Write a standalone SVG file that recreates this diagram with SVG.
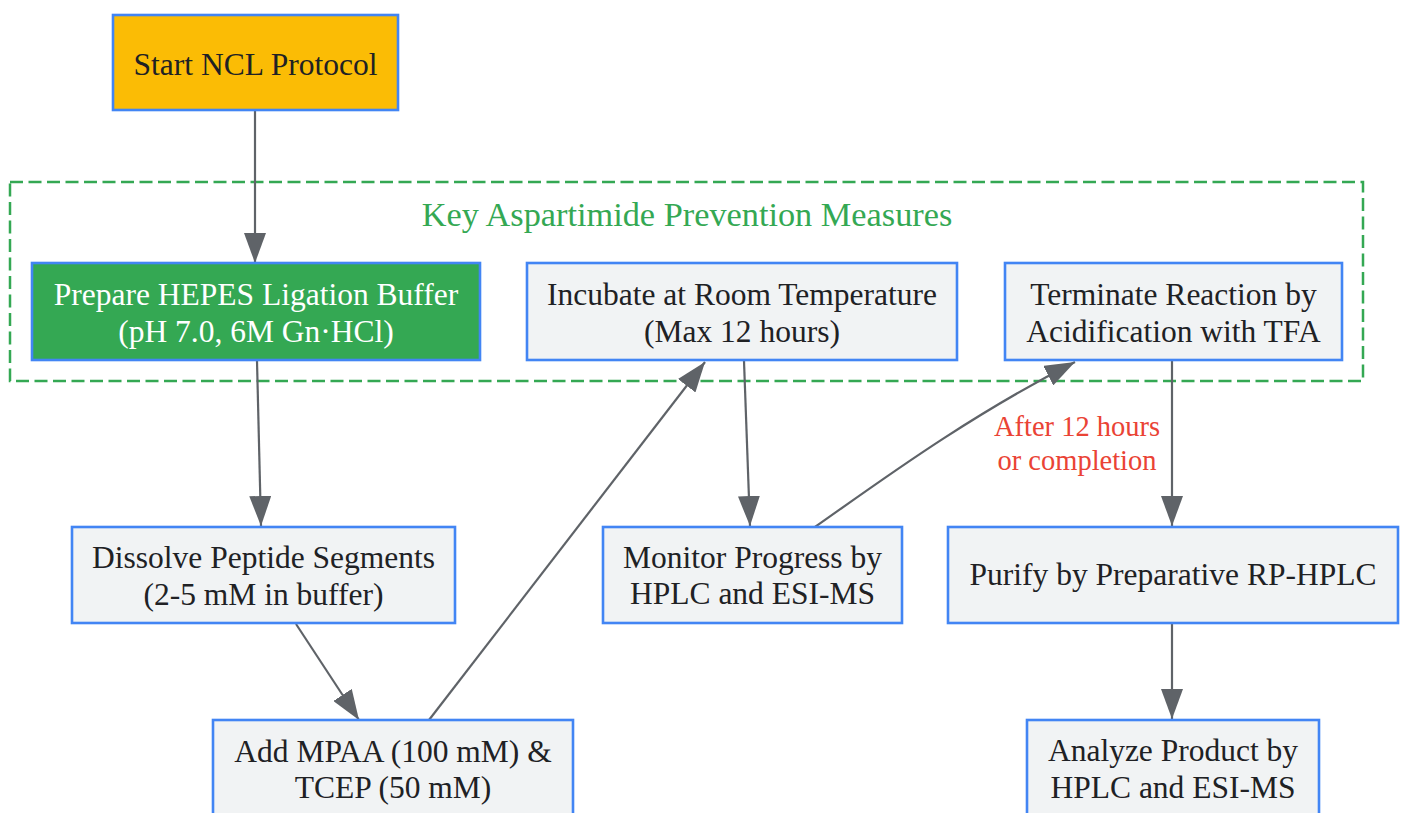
<svg xmlns="http://www.w3.org/2000/svg" width="1402" height="813" viewBox="0 0 1402 813">
<defs>
<style>
.node rect{fill:#F1F3F4;stroke:#4285F4;stroke-width:2.6}
.node text{font-family:"Liberation Serif","Times New Roman",serif;font-size:31.5px;fill:#202124;text-anchor:middle}
.edge{fill:none;stroke:#5F6368;stroke-width:2.2;marker-end:url(#arrow)}
.elabel{font-family:"Liberation Serif","Times New Roman",serif;font-size:28.5px;fill:#EA4335;text-anchor:middle}
.cluster rect{fill:none;stroke:#34A853;stroke-width:2.5;stroke-dasharray:13 5.5}
.cluster text{font-family:"Liberation Serif","Times New Roman",serif;font-size:34.3px;fill:#34A853;text-anchor:middle}
</style>
<marker id="arrow" viewBox="0 0 30 22" refX="30" refY="11" markerWidth="30" markerHeight="22" markerUnits="userSpaceOnUse" orient="auto">
<path d="M0,0 L30,11 L0,22 z" fill="#5F6368"/>
</marker>
</defs>
<rect width="1402" height="813" fill="#FFFFFF"/>
<g id="cluster-prevention" class="cluster">
<rect x="10" y="182" width="1353" height="199"/>
<text x="687" y="226">Key Aspartimide Prevention Measures</text>
</g>
<g id="connectors">
<path class="edge" d="M255,111 L255,263"/>
<path class="edge" d="M257,361 L261,526"/>
<path class="edge" d="M296,624 L359,720"/>
<path class="edge" d="M429,720 L705,362"/>
<path class="edge" d="M744,361 L750,526"/>
<path class="edge" d="M815,527 C875,485 965,418 1075,362"/>
<path class="edge" d="M1172,361 L1172,526"/>
<path class="edge" d="M1172,624 L1172,719"/>
<g id="edge-label">
<text class="elabel" x="1077" y="436">After 12 hours</text>
<text class="elabel" x="1077" y="470">or completion</text>
</g>
</g>
<g id="node-start" class="node">
<rect x="113" y="15" width="285" height="95" style="fill:#FBBC05"/>
<text x="255.5" y="75">Start NCL Protocol</text>
</g>
<g id="node-prepare" class="node">
<rect x="32" y="263" width="448" height="97" style="fill:#34A853"/>
<text x="256" y="305" style="fill:#FFFFFF">Prepare HEPES Ligation Buffer</text>
<text x="256" y="342" style="fill:#FFFFFF">(pH 7.0, 6M Gn·HCl)</text>
</g>
<g id="node-incubate" class="node">
<rect x="527" y="263" width="430" height="97"/>
<text x="742" y="305">Incubate at Room Temperature</text>
<text x="742" y="342">(Max 12 hours)</text>
</g>
<g id="node-terminate" class="node">
<rect x="1005" y="263" width="337" height="97"/>
<text x="1173.5" y="305">Terminate Reaction by</text>
<text x="1173.5" y="342">Acidification with TFA</text>
</g>
<g id="node-dissolve" class="node">
<rect x="72" y="527" width="383" height="96"/>
<text x="263.5" y="568">Dissolve Peptide Segments</text>
<text x="263.5" y="605">(2-5 mM in buffer)</text>
</g>
<g id="node-monitor" class="node">
<rect x="603" y="527" width="299" height="96"/>
<text x="752.5" y="568">Monitor Progress by</text>
<text x="752.5" y="604">HPLC and ESI-MS</text>
</g>
<g id="node-purify" class="node">
<rect x="948" y="527" width="450" height="96"/>
<text x="1173" y="585">Purify by Preparative RP-HPLC</text>
</g>
<g id="node-add" class="node">
<rect x="213" y="720" width="360" height="96"/>
<text x="393" y="762">Add MPAA (100 mM) &amp;</text>
<text x="393" y="798">TCEP (50 mM)</text>
</g>
<g id="node-analyze" class="node">
<rect x="1027" y="720" width="292" height="96"/>
<text x="1173" y="761">Analyze Product by</text>
<text x="1173" y="798">HPLC and ESI-MS</text>
</g>
</svg>
